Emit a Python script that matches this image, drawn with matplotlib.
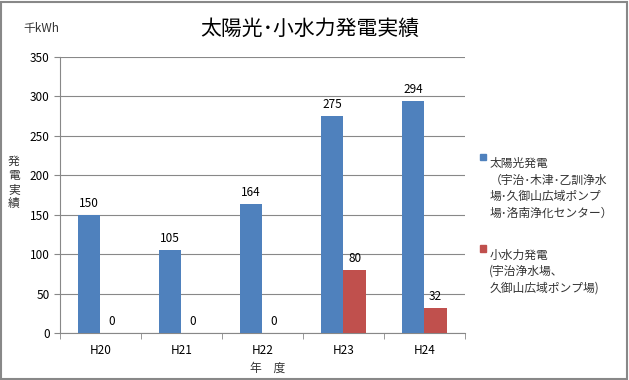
import matplotlib.pyplot as plt
import numpy as np

plt.rcParams['font.family'] = ['Noto Sans CJK JP', 'DejaVu Sans']

years = ['H20', 'H21', 'H22', 'H23', 'H24']
solar = [150, 105, 164, 275, 294]
hydro = [0, 0, 0, 80, 32]

blue = '#4F81BD'
red = '#C0504D'

fig = plt.figure(figsize=(6.29, 3.8), dpi=100)
ax = fig.add_axes([0.0954, 0.1237, 0.6434, 0.7263])

x = np.arange(len(years))
w = 0.28
b1 = ax.bar(x - w / 2, solar, w, color=blue, zorder=3)
b2 = ax.bar(x + w / 2, hydro, w, color=red, zorder=3)

for rect, v in zip(b1, solar):
    ax.text(rect.get_x() + rect.get_width() / 2, v + 6, str(v),
            ha='center', va='bottom', fontsize=8.5)
for rect, v in zip(b2, hydro):
    ax.text(rect.get_x() + rect.get_width() / 2, v + 6, str(v),
            ha='center', va='bottom', fontsize=8.5)

ax.set_xlim(-0.5, 4.5)
ax.set_ylim(0, 350)
ax.set_yticks(range(0, 351, 50))
ax.set_xticks(x)
ax.set_xticklabels(years, fontsize=8.5)
ax.tick_params(axis='y', labelsize=8.5, length=4, color='#888888')
ax.tick_params(axis='x', length=0, pad=8)
ax.set_xticks(np.arange(-0.5, 5, 1), minor=True)
ax.tick_params(axis='x', which='minor', length=4, color='#888888')
ax.yaxis.grid(True, color='#888888', linewidth=0.8, zorder=0)
for s in ['top', 'right']:
    ax.spines[s].set_visible(False)
ax.spines['left'].set_color('#888888')
ax.spines['bottom'].set_color('#888888')

fig.text(0.493, 0.925, '太陽光･小水力発電実績', ha='center', va='center', fontsize=15)
fig.text(0.065, 0.925, '千kWh', ha='center', va='center', fontsize=8.5, color='#333333')
fig.text(0.022, 0.52, '発\n電\n実\n績', ha='center', va='center', fontsize=8.5,
         linespacing=1.1, color='#333333')
fig.text(0.425, 0.03, '年　度', ha='center', va='center', fontsize=8.5, color='#333333')

# legend
fig.patches.append(plt.Rectangle((0.763, 0.578), 0.0095, 0.016, color=blue,
                                 transform=fig.transFigure, figure=fig))
fig.text(0.778, 0.586, '太陽光発電\n（宇治･木津･乙訓浄水\n場･久御山広域ポンプ\n場･洛南浄化センター）',
         ha='left', va='top', fontsize=8.5, linespacing=1.35, color='#333333')
fig.patches.append(plt.Rectangle((0.763, 0.338), 0.0095, 0.016, color=red,
                                 transform=fig.transFigure, figure=fig))
fig.text(0.778, 0.346, '小水力発電\n(宇治浄水場、\n久御山広域ポンプ場)',
         ha='left', va='top', fontsize=8.5, linespacing=1.35, color='#333333')

fig.patches.append(plt.Rectangle((0.002, 0.003), 0.995, 0.993, fill=False,
                                 edgecolor='#888888', linewidth=1.5,
                                 transform=fig.transFigure, figure=fig))

fig.savefig('out.png', dpi=100)
